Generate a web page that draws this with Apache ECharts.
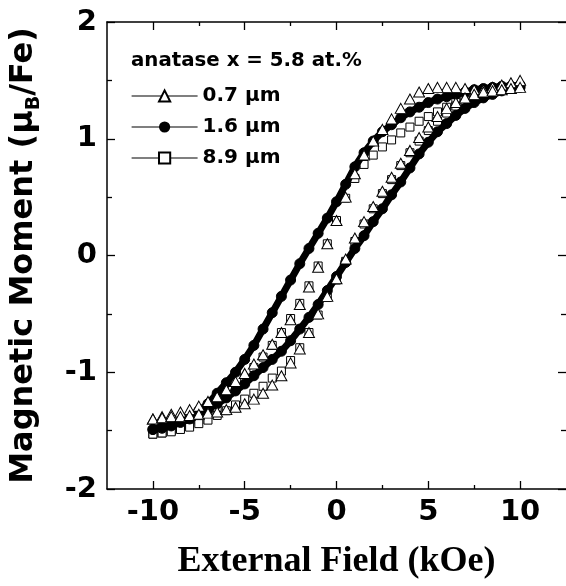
<!DOCTYPE html>
<html>
<head>
<meta charset="utf-8">
<script src="https://cdn.jsdelivr.net/npm/echarts@6/dist/echarts.min.js"></script>
<style>
  html, body { margin: 0; padding: 0; background: #fff; }
  #chart { width: 566px; height: 586px; }
</style>
</head>
<body>
<div id="chart"></div>
<script>
// field steps (kOe), same for every branch
var field = [-10, -9.5, -9, -8.5, -8, -7.5, -7, -6.5, -6, -5.5, -5, -4.5, -4, -3.5, -3, -2.5, -2, -1.5, -1, -0.5,
  0, 0.5, 1, 1.5, 2, 2.5, 3, 3.5, 4, 4.5, 5, 5.5, 6, 6.5, 7, 7.5, 8, 8.5, 9, 9.5, 10];

// 0.7 um  (triangles)
var t07Down = [-1.40, -1.38, -1.36, -1.34, -1.32, -1.29, -1.25, -1.21, -1.15, -1.08, -1.01, -0.93, -0.85, -0.76, -0.66, -0.55, -0.42, -0.27, -0.10, 0.10,
  0.30, 0.50, 0.70, 0.86, 0.98, 1.08, 1.17, 1.26, 1.34, 1.40, 1.43, 1.44, 1.44, 1.44, 1.43, 1.42, 1.42, 1.44, 1.46, 1.48, 1.50];
var t07Up = [-1.40, -1.39, -1.38, -1.38, -1.37, -1.36, -1.35, -1.34, -1.32, -1.30, -1.27, -1.23, -1.18, -1.11, -1.03, -0.92, -0.80, -0.66, -0.50, -0.35,
  -0.20, -0.03, 0.15, 0.29, 0.42, 0.55, 0.67, 0.79, 0.90, 1.01, 1.10, 1.19, 1.26, 1.31, 1.35, 1.38, 1.40, 1.41, 1.42, 1.43, 1.44];

// 1.6 um  (filled circles)
var t16Down = [-1.49, -1.47, -1.45, -1.42, -1.38, -1.33, -1.27, -1.18, -1.09, -1.00, -0.89, -0.77, -0.63, -0.49, -0.35, -0.21, -0.07, 0.06, 0.19, 0.32,
  0.46, 0.61, 0.76, 0.88, 0.98, 1.06, 1.12, 1.18, 1.23, 1.27, 1.31, 1.34, 1.36, 1.38, 1.40, 1.42, 1.43, 1.44, 1.45, 1.45, 1.46];
var t16Up = [-1.49, -1.48, -1.46, -1.43, -1.40, -1.36, -1.32, -1.27, -1.22, -1.16, -1.10, -1.03, -0.96, -0.89, -0.82, -0.73, -0.63, -0.53, -0.42, -0.30,
  -0.18, -0.06, 0.06, 0.17, 0.29, 0.40, 0.52, 0.63, 0.75, 0.87, 0.97, 1.06, 1.13, 1.20, 1.26, 1.31, 1.35, 1.38, 1.41, 1.43, 1.44];

// 8.9 um  (open squares)
var t89Down = [-1.53, -1.52, -1.50, -1.48, -1.45, -1.41, -1.36, -1.30, -1.20, -1.13, -1.05, -0.96, -0.87, -0.77, -0.66, -0.54, -0.41, -0.26, -0.09, 0.10,
  0.30, 0.49, 0.66, 0.78, 0.86, 0.93, 0.99, 1.05, 1.10, 1.15, 1.19, 1.23, 1.27, 1.31, 1.35, 1.38, 1.40, 1.42, 1.43, 1.44, 1.45];
var t89Up = [-1.53, -1.52, -1.51, -1.49, -1.47, -1.44, -1.41, -1.37, -1.33, -1.28, -1.23, -1.18, -1.12, -1.05, -0.99, -0.90, -0.79, -0.66, -0.51, -0.36,
  -0.21, -0.05, 0.12, 0.27, 0.40, 0.53, 0.65, 0.77, 0.88, 0.98, 1.07, 1.15, 1.22, 1.28, 1.33, 1.36, 1.39, 1.41, 1.42, 1.43, 1.45];

var xMajor = [-10, -5, 0, 5, 10];
var xMinor = [-7.5, -2.5, 2.5, 7.5];
var yMajor = [-2, -1, 0, 1, 2];
var yMinor = [-1.5, -0.5, 0.5, 1.5];

// full loop: field sweeps down from +10 then back up from -10
function loop(down, up) {
  var pts = [];
  for (var i = field.length - 1; i >= 0; i--) pts.push([field[i], down[i]]);
  for (var j = 0; j < field.length; j++) pts.push([field[j], up[j]]);
  return pts;
}

var sans = '"DejaVu Sans", Arial, sans-serif';

function axis(kind, pos, ticks, len, labels, line, extra) {
  var a = {
    type: 'value',
    position: pos,
    min: kind === 'x' ? -12.5 : -2,
    max: kind === 'x' ? 12.5 : 2,
    splitLine: { show: false },
    axisLine: { show: !!line, onZero: false, lineStyle: { color: '#000', width: 1.5 } },
    axisTick: { show: true, inside: true, length: len, customValues: ticks, lineStyle: { color: '#000', width: 1.3 } },
    axisLabel: labels ? {
      customValues: labels, color: '#000', fontFamily: sans, fontWeight: 'bold', fontSize: 29,
      margin: kind === 'x' ? 9 : 10
    } : { show: false }
  };
  return Object.assign(a, extra || {});
}

var chart = echarts.init(document.getElementById('chart'));
chart.setOption({
  backgroundColor: '#fff',
  animation: false,
  grid: { left: 102, top: 22, width: 466, height: 467 },
  xAxis: [
    axis('x', 'bottom', xMajor, 8, xMajor, true, {
      name: 'External Field (kOe)', nameLocation: 'middle', nameGap: 55,
      nameTextStyle: { fontFamily: '"Liberation Serif", "Times New Roman", serif', fontWeight: 'bold', fontSize: 36, color: '#000' }
    }),
    axis('x', 'bottom', xMinor, 4, null, false),
    axis('x', 'top', xMajor, 8, null, true),
    axis('x', 'top', xMinor, 4, null, false)
  ],
  yAxis: [
    axis('y', 'left', yMajor, 8, yMajor, true, {
      name: '{a|Magnetic Moment (μ}{b|B}{a|/Fe)}', nameLocation: 'middle', nameRotate: 90, nameGap: 63,
      nameTextStyle: {
        rich: {
          a: { fontFamily: sans, fontWeight: 'bold', fontSize: 32, color: '#000', lineHeight: 40 },
          b: { fontFamily: sans, fontWeight: 'bold', fontSize: 19, color: '#000', lineHeight: 19, verticalAlign: 'bottom' }
        }
      }
    }),
    axis('y', 'left', yMinor, 5, null, false),
    axis('y', 'right', yMajor, 8, null, false),
    axis('y', 'right', yMinor, 5, null, false)
  ],
  legend: {
    orient: 'vertical',
    left: 131,
    top: 84,
    padding: 0,
    itemWidth: 66,
    itemHeight: 14,
    itemGap: 7,
    data: ['0.7 μm', '1.6 μm', '8.9 μm'],
    lineStyle: { width: 1.2, color: '#000' },
    textStyle: { fontFamily: sans, fontWeight: 'bold', fontSize: 20, color: '#000', lineHeight: 24 }
  },
  graphic: [{
    type: 'text', left: 131, top: 51,
    style: { text: 'anatase x = 5.8 at.%', font: 'bold 19.8px "DejaVu Sans", Arial, sans-serif', fill: '#000' }
  }],
  series: [
    {
      name: '8.9 μm', type: 'line', data: loop(t89Down, t89Up),
      symbol: 'rect', symbolSize: 8,
      itemStyle: { color: '#fff', borderColor: '#000', borderWidth: 1 },
      lineStyle: { width: 0, color: '#000' }, z: 2
    },
    {
      name: '1.6 μm', type: 'line', data: loop(t16Down, t16Up),
      symbol: 'circle', symbolSize: 10,
      itemStyle: { color: '#000', borderColor: '#000' },
      lineStyle: { width: 7, color: '#000' }, z: 3
    },
    {
      name: '0.7 μm', type: 'line', data: loop(t07Down, t07Up),
      symbol: 'triangle', symbolSize: [11, 10],
      itemStyle: { color: '#fff', borderColor: '#000', borderWidth: 1 },
      lineStyle: { width: 0, color: '#000' }, z: 4
    }
  ]
});
</script>
</body>
</html>
